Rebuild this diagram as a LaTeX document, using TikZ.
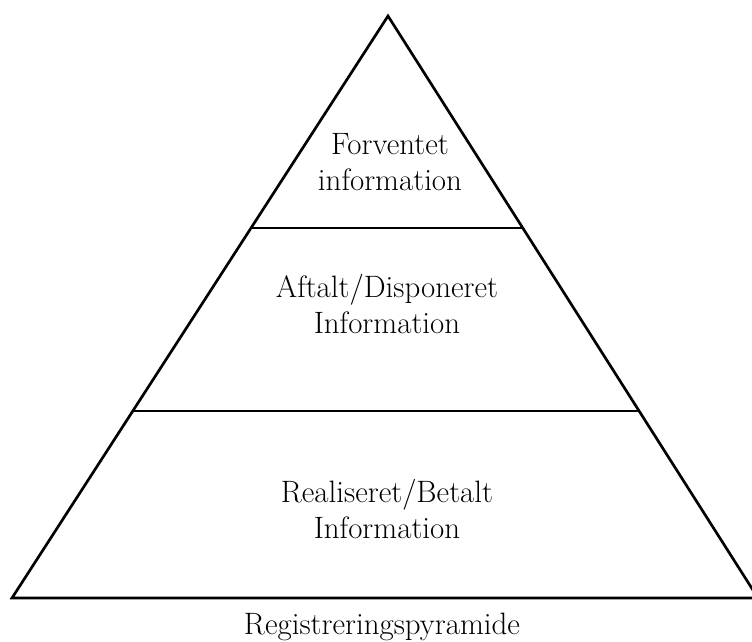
\documentclass[tikz,border=0pt]{standalone}
\usepackage{fontspec}
\begin{document}
\begin{tikzpicture}[x=0.025cm, y=-0.025cm]
        \useasboundingbox (0,0) rectangle (752,642);
        \clip (0,0) rectangle (752,642);

        % Pyramid outline
        \coordinate (apex) at (388, 16);
        \coordinate (baseleft) at (12, 598);
        \coordinate (baseright) at (758, 598);
        \draw[line width=1.9pt, line join=miter] (baseleft) -- (apex) -- (baseright) -- cycle;

        % Level dividers
        \draw[line width=1.6pt] (251, 228) -- (523, 228);
        \draw[line width=1.6pt] (133, 411) -- (640, 411);

        % Top level
        \node[align=center, font=\fontsize{22}{26}\selectfont] (top) at (390, 162) {
            Forventet\\
            information
        };

        % Middle level
        \node[align=center, font=\fontsize{22}{26}\selectfont] (middle) at (387, 304) {
            Aftalt/Disponeret\\
            Information
        };

        % Bottom level
        \node[align=center, font=\fontsize{22}{26}\selectfont] (bottom) at (387, 509) {
            Realiseret/Betalt\\
            Information
        };

        % Caption
        \node[font=\fontsize{22}{26}\selectfont] (caption) at (382, 627) {Registreringspyramide};
    \end{tikzpicture}
\end{document}
